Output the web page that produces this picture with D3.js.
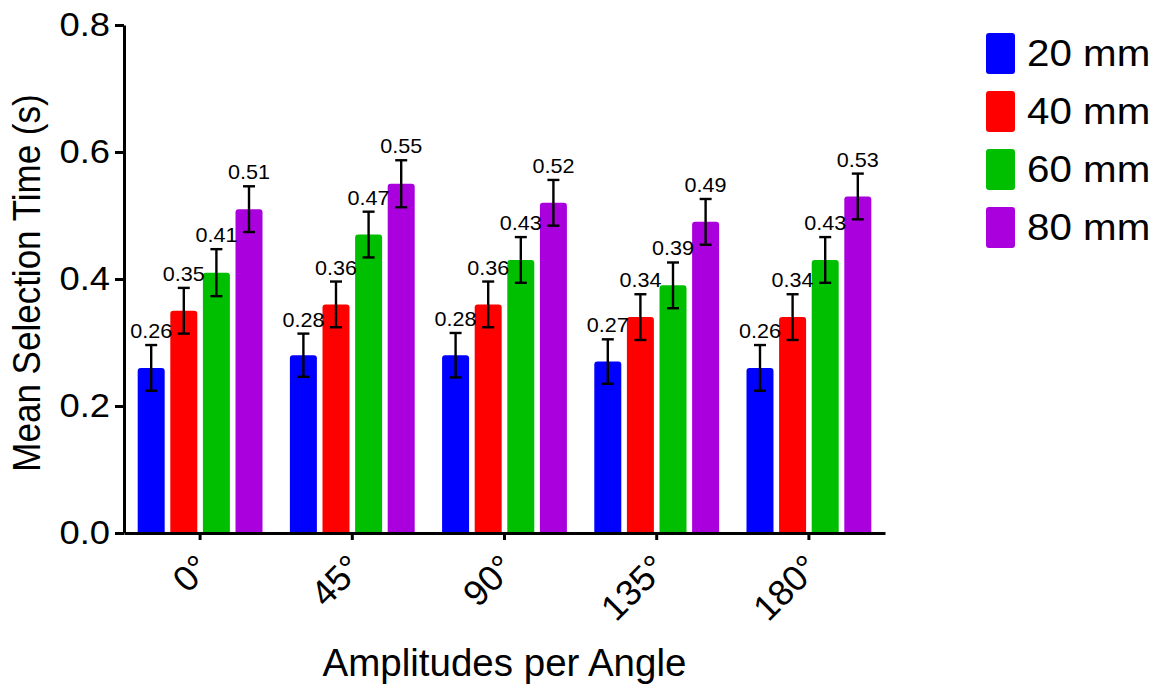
<!DOCTYPE html>
<html>
<head>
<meta charset="utf-8">
<script src="https://cdn.jsdelivr.net/npm/d3@7"></script>
<style>
  body { margin: 0; background: #fff; }
  svg text { font-family: "Liberation Sans", Arial, Helvetica, sans-serif; fill: #000; }
</style>
</head>
<body>
<script>
//chart data
var angles = ["0°", "45°", "90°", "135°", "180°"];
var amplitudes = ["20 mm", "40 mm", "60 mm", "80 mm"];
var mean20 = [0.26, 0.28, 0.28, 0.27, 0.26];
var mean40 = [0.35, 0.36, 0.36, 0.34, 0.34];
var mean60 = [0.41, 0.47, 0.43, 0.39, 0.43];
var mean80 = [0.51, 0.55, 0.52, 0.49, 0.53];
var err20 = [0.036, 0.034, 0.035, 0.035, 0.036];
var err40 = [0.036, 0.036, 0.036, 0.036, 0.036];
var err60 = [0.037, 0.036, 0.036, 0.036, 0.036];
var err80 = [0.036, 0.037, 0.036, 0.036, 0.036];
var yTicks = [0, 0.2, 0.4, 0.6, 0.8];
var colors = ["#0000ff", "#ff0000", "#00bf00", "#aa00dd"];

var means = [mean20, mean40, mean60, mean80];
var errs = [err20, err40, err60, err80];

var w = 1168, h = 689;
var plotLeft = 124, plotRight = 885, plotTop = 25, plotBottom = 533;
var sx = 1.08; //text in the picture is a little wider than Arial

var svg = d3.select("body").append("svg")
    .attr("width", w)
    .attr("height", h);

//scales
var x0 = d3.scaleBand()
    .domain(angles)
    .range([plotLeft, plotRight]);

var x1 = d3.scaleBand()
    .domain(amplitudes)
    .range([0, x0.bandwidth()])
    .paddingInner(0.172)
    .paddingOuter(0.42);

var y = d3.scaleLinear()
    .domain([0, 0.8])
    .range([plotBottom, plotTop]);

//flatten to one record per bar
var bars = [];
angles.forEach(function(a, i){
    amplitudes.forEach(function(s, j){
        bars.push({angle: a, amp: s, k: j, v: means[j][i], e: errs[j][i]});
    });
});

//bar with rounded top corners only
function barPath(x, yTop, bw, yBase, r){
    return "M" + x + "," + yBase +
        "V" + (yTop + r) +
        "Q" + x + "," + yTop + " " + (x + r) + "," + yTop +
        "H" + (x + bw - r) +
        "Q" + (x + bw) + "," + yTop + " " + (x + bw) + "," + (yTop + r) +
        "V" + yBase + "Z";
}

svg.append("g").selectAll("path")
    .data(bars)
    .enter()
    .append("path")
    .attr("d", function(d){
        return barPath(x0(d.angle) + x1(d.amp), y(d.v), x1.bandwidth(), y(0), 3);
    })
    .style("fill", function(d){ return colors[d.k]; });

//error bars
var eb = svg.append("g")
    .attr("stroke", "#000")
    .attr("stroke-width", 2.4);

bars.forEach(function(d){
    var cx = x0(d.angle) + x1(d.amp) + x1.bandwidth() / 2;
    var y1 = y(d.v + d.e), y2 = y(d.v - d.e);
    eb.append("line").attr("x1", cx).attr("x2", cx).attr("y1", y1).attr("y2", y2);
    eb.append("line").attr("x1", cx - 6).attr("x2", cx + 6).attr("y1", y1).attr("y2", y1);
    eb.append("line").attr("x1", cx - 6).attr("x2", cx + 6).attr("y1", y2).attr("y2", y2);
});

//value labels above the error bars
svg.append("g").selectAll("text")
    .data(bars)
    .enter()
    .append("text")
    .attr("transform", "scale(" + sx + ",1)")
    .attr("x", function(d){ return (x0(d.angle) + x1(d.amp) + x1.bandwidth() / 2) / sx; })
    .attr("y", function(d){ return y(d.v + d.e) - 7; })
    .attr("text-anchor", "middle")
    .style("font-size", "20px")
    .text(function(d){ return d.v.toFixed(2); });

//y axis
var yAxis = svg.append("g")
    .attr("transform", "translate(" + plotLeft + ",0)")
    .call(d3.axisLeft(y).tickValues(yTicks).tickFormat(d3.format(".1f")).tickSize(9).tickSizeOuter(0).tickPadding(5));

//x axis
var xAxis = svg.append("g")
    .attr("transform", "translate(0," + plotBottom + ")")
    .call(d3.axisBottom(x0).tickSize(7).tickSizeOuter(0));

[yAxis, xAxis].forEach(function(g){
    g.select(".domain").attr("stroke-width", 3).attr("stroke", "#000");
    g.selectAll(".tick line").attr("stroke-width", 3).attr("stroke", "#000");
});

yAxis.selectAll("text")
    .style("font-size", "32.5px")
    .attr("font-family", null)
    .attr("transform", "scale(1.12,1)")
    .attr("x", -14 / 1.12);

xAxis.selectAll("text")
    .style("font-size", "36px")
    .attr("font-family", null)
    .attr("text-anchor", "end")
    .attr("dy", null)
    .attr("y", 0)
    .attr("transform", "translate(12,37) rotate(-45)");

//axis titles
svg.append("text")
    .attr("transform", "translate(40,283) scale(1.1,1) rotate(-90)")
    .attr("text-anchor", "middle")
    .style("font-size", "35px")
    .text("Mean Selection Time (s)");

svg.append("text")
    .attr("x", (plotLeft + plotRight) / 2)
    .attr("y", 676)
    .attr("text-anchor", "middle")
    .style("font-size", "38.5px")
    .text("Amplitudes per Angle");

//legend
var legend = svg.append("g").selectAll("g")
    .data(amplitudes)
    .enter()
    .append("g")
    .attr("transform", function(d, i){ return "translate(986," + (33 + i * 58) + ")"; });

legend.append("rect")
    .attr("width", 29)
    .attr("height", 41)
    .attr("rx", 3)
    .style("fill", function(d, i){ return colors[i]; });

legend.append("text")
    .attr("transform", "scale(1.09,1)")
    .attr("x", 41 / 1.09)
    .attr("y", 20.5)
    .attr("dy", "0.35em")
    .style("font-size", "37px")
    .text(function(d){ return d; });
</script>
</body>
</html>
